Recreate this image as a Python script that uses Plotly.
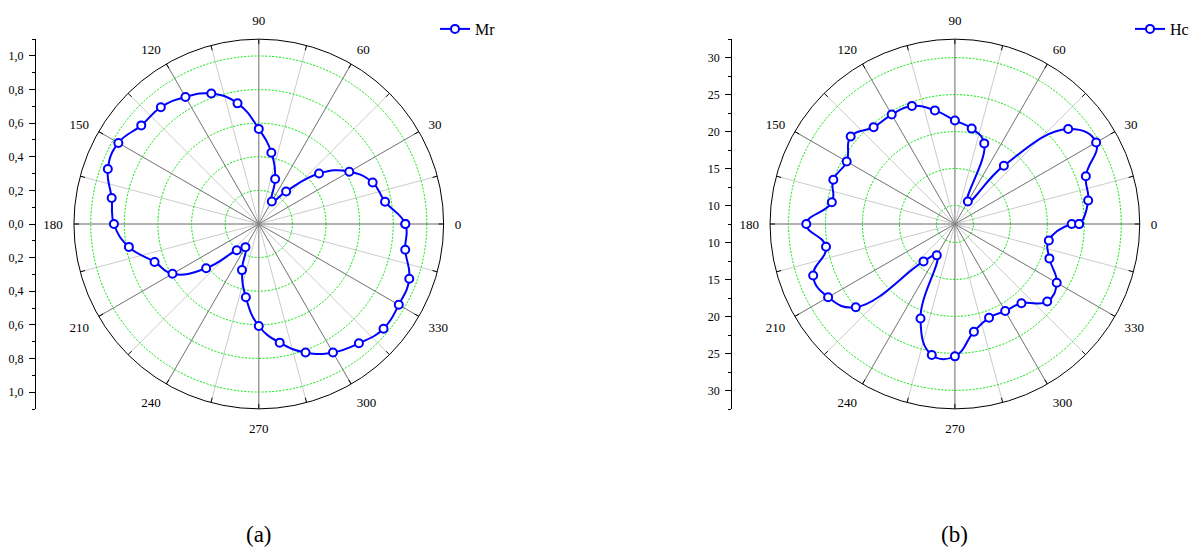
import plotly.graph_objects as go

# Measurement angles (degrees) and the two measured quantities
ANGLES_MR = list(range(0, 360, 10))
MR = [0.872, 0.763, 0.721, 0.622, 0.468, 0.253, 0.155, 0.285, 0.431, 0.566,
      0.729, 0.826, 0.873, 0.907, 0.913, 0.965, 0.956, 0.889, 0.862, 0.785,
      0.660, 0.593, 0.409, 0.204, 0.159, 0.292, 0.443, 0.607, 0.717, 0.814,
      0.883, 0.927, 0.969, 0.962, 0.953, 0.885]

ANGLES_HC = list(range(0, 361, 10))
HC = [24.3, 25.8, 26.35, 29.56, 27.5, 17.8, 11.0, 19.1, 20.6, 21.5,
      23.1, 24.5, 24.6, 24.6, 25.9, 24.4, 25.0, 24.4, 27.6, 25.2,
      27.9, 27.3, 25.0, 14.1, 12.4, 21.1, 25.5, 25.4, 22.3, 21.0,
      21.1, 21.5, 23.8, 23.4, 21.1, 20.4, 23.3]

# Radial ranges, ring values and side-scale ticks
MR_RANGE = [0.0, 1.1]
MR_RINGS = [0.2, 0.4, 0.6, 0.8, 1.0]
MR_MAJOR = [-1.0, -0.8, -0.6, -0.4, -0.2, 0.0, 0.2, 0.4, 0.6, 0.8, 1.0]
MR_MINOR = [-1.1, -0.9, -0.7, -0.5, -0.3, -0.1, 0.1, 0.3, 0.5, 0.7, 0.9, 1.1]

HC_RANGE = [7.5, 32.5]
HC_RINGS = [10, 15, 20, 25, 30]
HC_MINOR = [7.5, 12.5, 17.5, 22.5, 27.5, 32.5]

ANGLE_TICKS = list(range(0, 360, 15))

FONT = "Liberation Serif"
BLUE = "#0000ff"
W, H = 1194, 547


def fx(x):
    return x / W


def fy(y):
    return 1 - y / H


Y_TOP, Y_BOT = 39, 409
R_PX = 185
LEFT_CX, RIGHT_CX = 259, 955.7
POLAR_Y = [fy(Y_BOT), fy(Y_TOP)]
TICK_PX = 5

fig = go.Figure()


def add_spokes(subplot, r0, r1, angles, color):
    r, th = [], []
    for a in angles:
        r += [r0, r1, None]
        th += [a, a, None]
    fig.add_trace(go.Scatterpolar(
        r=r, theta=th, mode="lines", subplot=subplot,
        line=dict(color=color, width=1), showlegend=False, hoverinfo="skip"))


# Darker spokes every 30 degrees (lighter 15-degree grid comes from the axis)
add_spokes("polar", MR_RANGE[0], MR_RANGE[1], list(range(0, 360, 30)), "#808080")
add_spokes("polar2", HC_RANGE[0], HC_RANGE[1], list(range(0, 360, 30)), "#808080")

# Short inward tick marks on the outer circle every 15 degrees
for sp, rng in (("polar", MR_RANGE), ("polar2", HC_RANGE)):
    span = rng[1] - rng[0]
    add_spokes(sp, rng[1] - span * TICK_PX / R_PX, rng[1], ANGLE_TICKS, "black")

marker_style = dict(symbol="circle", size=8, color="white",
                    line=dict(color=BLUE, width=2))

fig.add_trace(go.Scatterpolar(
    r=MR + [MR[0]], theta=ANGLES_MR + [360], name="Mr",
    mode="lines+markers", subplot="polar", legend="legend",
    line=dict(color=BLUE, width=2, shape="spline", smoothing=1.3),
    marker=marker_style))

fig.add_trace(go.Scatterpolar(
    r=HC + [HC[0]], theta=ANGLES_HC + [0], name="Hc",
    mode="lines+markers", subplot="polar2", legend="legend2",
    line=dict(color=BLUE, width=2, shape="spline", smoothing=1.3),
    marker=marker_style))

# Empty traces so the side scales are laid out as cartesian subplots
fig.add_trace(go.Scatter(x=[], y=[], xaxis="x", yaxis="y", showlegend=False))
fig.add_trace(go.Scatter(x=[], y=[], xaxis="x2", yaxis="y2", showlegend=False))


def fmt_comma(v):
    return f"{abs(v):.1f}".replace(".", ",")


def polar_layout(cx, rng, rings):
    return dict(
        domain=dict(x=[fx(cx - R_PX), fx(cx + R_PX)], y=POLAR_Y),
        bgcolor="white",
        radialaxis=dict(
            range=rng, tickvals=rings, showticklabels=False, ticks="",
            showline=False, gridcolor="#00e600", griddash="2px,1.5px", gridwidth=1),
        angularaxis=dict(
            rotation=0, direction="counterclockwise",
            tickvals=ANGLE_TICKS,
            ticktext=[str(a) if a % 30 == 0 else "" for a in ANGLE_TICKS],
            ticks="outside", ticklen=8, tickcolor="rgba(0,0,0,0)",
            showline=True, linecolor="black", linewidth=1,
            gridcolor="#cccccc",
            tickfont=dict(family=FONT, size=13, color="black")),
    )


hc_center = HC_RANGE[0]
hc_major_pos = [-(v - hc_center) for v in HC_RINGS[::-1]] + [v - hc_center for v in HC_RINGS]
hc_major_txt = [str(v) for v in HC_RINGS[::-1]] + [str(v) for v in HC_RINGS]
hc_minor_pos = sorted(set([-(v - hc_center) for v in HC_MINOR] + [v - hc_center for v in HC_MINOR]))
hc_span = HC_RANGE[1] - HC_RANGE[0]

side_axis = dict(
    ticks="outside", ticklen=6, tickcolor="black", showline=True,
    linecolor="black", linewidth=1, showgrid=False, zeroline=False,
    ticklabelstandoff=3,
    fixedrange=True, tickfont=dict(family=FONT, size=12, color="black"),
    domain=POLAR_Y)

legend_style = dict(yanchor="middle", xanchor="left", bgcolor="rgba(0,0,0,0)",
                    borderwidth=0, font=dict(family=FONT, size=16, color="black"))

fig.update_layout(
    width=W, height=H, autosize=False,
    margin=dict(l=0, r=0, t=0, b=0),
    paper_bgcolor="white", plot_bgcolor="rgba(0,0,0,0)",
    font=dict(family=FONT, color="black"),
    polar=polar_layout(LEFT_CX, MR_RANGE, MR_RINGS),
    polar2=polar_layout(RIGHT_CX, HC_RANGE, HC_RINGS),
    xaxis=dict(domain=[fx(36), fx(40)], visible=False, range=[0, 1], fixedrange=True),
    xaxis2=dict(domain=[fx(732.7), fx(736)], visible=False, range=[0, 1], fixedrange=True),
    yaxis=dict(anchor="x", range=[-MR_RANGE[1], MR_RANGE[1]],
               tickvals=MR_MAJOR, ticktext=[fmt_comma(v) for v in MR_MAJOR],
               minor=dict(tickvals=MR_MINOR, ticks="outside", ticklen=3, tickcolor="black"),
               **side_axis),
    yaxis2=dict(anchor="x2", range=[-hc_span, hc_span],
                tickvals=hc_major_pos, ticktext=hc_major_txt,
                minor=dict(tickvals=hc_minor_pos, ticks="outside", ticklen=3, tickcolor="black"),
                **side_axis),
    showlegend=True,
    legend=dict(x=fx(435), y=fy(29), **legend_style),
    legend2=dict(x=fx(1131), y=fy(29), **legend_style),
    annotations=[
        dict(text="(a)", x=fx(LEFT_CX), y=fy(534), xref="paper", yref="paper",
             xanchor="center", yanchor="middle", showarrow=False,
             font=dict(family=FONT, size=23, color="black")),
        dict(text="(b)", x=fx(RIGHT_CX), y=fy(534), xref="paper", yref="paper",
             xanchor="center", yanchor="middle", showarrow=False,
             font=dict(family=FONT, size=23, color="black")),
    ],
)

fig.write_html("out.html")
